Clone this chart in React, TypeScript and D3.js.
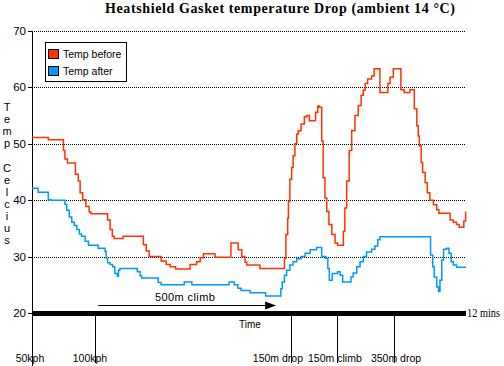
import React, { useRef, useEffect } from "react";
import * as d3 from "d3";

const title = "Heatshield Gasket temperature Drop (ambient 14 °C)";
const seriesNames = ["Temp before", "Temp after"];
const seriesColors = ["#ff3300", "#0099ff"];
const yTicks = [20, 30, 40, 50, 60, 70];
const yTitle = "Temp Celcius";
const markerTimes = [0, 1.74, 7.16, 8.43, 10.01];
const markerLabels = ["50kph", "100kph", "150m drop", "150m climb", "350m drop"];
const endLabel = "12 mins";

// [minutes, °C]
const tempBefore: [number, number][] = [
  [0, 51.1], [0.45, 50.7], [0.87, 48.8], [0.91, 47.3], [0.98, 46.6], [1.2, 44.6],
  [1.28, 43.4], [1.33, 41.3], [1.4, 40.1], [1.49, 38.9], [1.58, 37.9], [1.63, 37.6],
  [2.09, 36.5], [2.16, 34.8], [2.22, 33.6], [2.27, 33.2], [2.52, 33.6], [3.08, 32.1],
  [3.16, 31.0], [3.24, 30.0], [3.57, 29.2], [3.71, 28.6], [3.82, 28.2], [3.97, 27.8],
  [4.37, 28.6], [4.55, 29.1], [4.65, 29.8], [4.74, 30.5], [5.06, 29.9], [5.5, 32.4],
  [5.7, 31.2], [5.8, 30.0], [5.89, 29.0], [5.94, 28.5], [6.3, 27.9], [6.98, 29.7],
  [7.02, 33.9], [7.07, 36.8], [7.09, 39.8], [7.13, 43.7], [7.18, 45.8], [7.22, 47.9],
  [7.27, 50.0], [7.32, 51.7], [7.36, 52.3], [7.44, 53.5], [7.53, 54.8], [7.6, 55.0],
  [7.67, 54.1], [7.84, 55.6], [7.9, 56.7], [7.94, 56.5], [8.01, 50.5], [8.05, 44.0],
  [8.1, 40.4], [8.15, 38.0], [8.21, 35.7], [8.29, 33.9], [8.38, 32.4], [8.45, 32.0],
  [8.61, 34.5], [8.65, 38.6], [8.7, 43.4], [8.77, 48.8], [8.84, 52.3], [8.93, 55.0],
  [9.02, 56.8], [9.1, 58.6], [9.16, 59.5], [9.21, 60.7], [9.28, 61.5], [9.39, 62.0],
  [9.46, 63.3], [9.62, 59.1], [9.84, 60.7], [9.9, 61.8], [9.99, 63.3], [10.2, 59.6],
  [10.29, 59.1], [10.45, 59.6], [10.57, 56.2], [10.64, 53.2], [10.68, 51.4], [10.71, 49.6],
  [10.76, 46.7], [10.8, 44.9], [10.87, 43.1], [10.93, 41.3], [11.0, 40.0], [11.1, 39.2],
  [11.19, 38.3], [11.25, 37.7], [11.56, 36.5], [11.65, 36.1], [11.74, 35.7], [11.81, 35.2],
  [11.94, 36.3], [11.99, 38.0],
];

const tempAfter: [number, number][] = [
  [0, 42.1], [0.17, 41.4], [0.45, 40.1], [0.52, 40.0], [0.91, 39.3], [0.96, 38.2],
  [1.03, 37.0], [1.1, 36.1], [1.17, 35.5], [1.24, 34.8], [1.31, 34.0], [1.37, 33.6],
  [1.47, 32.7], [1.56, 32.0], [1.83, 31.5], [2.02, 30.9], [2.05, 29.7], [2.09, 28.9],
  [2.16, 28.6], [2.23, 28.2], [2.29, 27.0], [2.36, 26.5], [2.39, 27.6], [2.43, 27.9],
  [2.91, 27.3], [2.99, 26.6], [3.03, 26.2], [3.49, 25.4], [3.57, 25.0], [4.21, 25.5],
  [4.42, 25.0], [5.45, 25.5], [5.59, 25.0], [5.69, 24.4], [5.78, 24.0], [6.03, 23.6],
  [6.46, 23.0], [6.88, 24.3], [6.92, 25.5], [6.98, 26.7], [7.04, 27.6], [7.13, 28.5],
  [7.22, 29.1], [7.32, 29.6], [7.44, 30.0], [7.55, 30.6], [7.69, 31.2], [7.87, 31.6],
  [8.01, 30.0], [8.12, 29.7], [8.18, 27.9], [8.22, 25.8], [8.3, 27.0], [8.45, 27.3],
  [8.52, 26.7], [8.59, 25.5], [8.82, 26.4], [8.88, 27.1], [8.98, 28.2], [9.07, 29.1],
  [9.16, 30.0], [9.25, 30.8], [9.39, 31.3], [9.48, 31.9], [9.56, 33.0], [9.62, 33.5],
  [11.02, 30.3], [11.08, 28.2], [11.12, 26.4], [11.19, 24.6], [11.24, 23.8], [11.28, 25.8],
  [11.33, 29.4], [11.38, 31.3], [11.46, 31.5], [11.53, 30.6], [11.59, 29.1], [11.65, 28.5],
  [11.74, 28.1], [12, 28.1],
];

const climbFrom = 1.83;
const climbTo = 6.75;
const climbTemp = 21.4;
const climbLabel = "500m climb";

const Chart = () => {
  const ref = useRef<SVGSVGElement>(null);

  useEffect(() => {
    const svg = d3.select(ref.current);
    svg.selectAll("*").remove();

    const sans = "'Liberation Sans', Arial, sans-serif";
    const serif = "'Liberation Serif', 'Times New Roman', serif";

    const x = d3.scaleLinear().domain([0, 12]).range([32, 466]);
    const y = d3.scaleLinear().domain([20, 70]).range([313, 31]);

    // title
    svg.append("text")
      .attr("x", 105).attr("y", 12.5)
      .attr("textLength", 350).attr("lengthAdjust", "spacing")
      .style("font-family", serif).style("font-weight", "bold").style("font-size", "14px")
      .text(title);

    // dotted grid
    svg.append("g").selectAll("line")
      .data(yTicks.filter((d) => d > 20))
      .enter().append("line")
      .attr("x1", x(0)).attr("x2", x(12))
      .attr("y1", (d) => Math.round(y(d)) + 0.5).attr("y2", (d) => Math.round(y(d)) + 0.5)
      .attr("stroke", "#000").attr("stroke-dasharray", "1,1");

    // y axis
    svg.append("line")
      .attr("x1", 32.5).attr("x2", 32.5).attr("y1", y(70)).attr("y2", 366)
      .attr("stroke", "#000");
    const ticks = svg.append("g");
    ticks.selectAll("line").data(yTicks).enter().append("line")
      .attr("x1", 28).attr("x2", 32)
      .attr("y1", (d) => Math.round(y(d)) + 0.5).attr("y2", (d) => Math.round(y(d)) + 0.5)
      .attr("stroke", "#000");
    ticks.selectAll("text").data(yTicks).enter().append("text")
      .attr("x", 26).attr("y", (d) => y(d) + 4)
      .attr("text-anchor", "end")
      .style("font-family", sans).style("font-size", "11.5px")
      .text((d) => d);

    // vertical y title
    const yt = svg.append("text")
      .attr("x", 7).attr("y", 111)
      .attr("text-anchor", "middle")
      .style("font-family", sans).style("font-size", "11px");
    yTitle.split("").forEach((c, i) => {
      yt.append("tspan").attr("x", 7).attr("y", 111 + i * 12.1).text(c);
    });

    // time bar
    svg.append("rect")
      .attr("x", x(0)).attr("y", y(20) - 2)
      .attr("width", x(12) - x(0)).attr("height", 5)
      .attr("fill", "#000");
    svg.append("text")
      .attr("x", x(12) + 1).attr("y", y(20) + 4)
      .attr("textLength", 33).attr("lengthAdjust", "spacingAndGlyphs")
      .style("font-family", serif).style("font-size", "12px")
      .text(endLabel);
    svg.append("text")
      .attr("x", (x(0) + x(12)) / 2 + 1).attr("y", 328)
      .attr("text-anchor", "middle")
      .style("font-family", sans).style("font-size", "10px")
      .text("Time");

    // event markers
    const shift = [-2, -5, -13, -2, 2];
    const mk = svg.append("g");
    mk.selectAll("line").data(markerTimes).enter().append("line")
      .attr("x1", (d) => Math.round(x(d)) + 0.5).attr("x2", (d) => Math.round(x(d)) + 0.5)
      .attr("y1", y(20)).attr("y2", 363)
      .attr("stroke", "#000");
    mk.selectAll("text").data(markerTimes).enter().append("text")
      .attr("x", (d, i) => x(d) + shift[i]).attr("y", 362)
      .attr("text-anchor", "middle")
      .style("font-family", sans).style("font-size", "10.5px")
      .text((d, i) => markerLabels[i]);

    // climb arrow
    const ay = Math.round(y(climbTemp)) + 0.5;
    svg.append("line")
      .attr("x1", x(climbFrom)).attr("x2", x(climbTo) - 8)
      .attr("y1", ay).attr("y2", ay)
      .attr("stroke", "#000");
    svg.append("path")
      .attr("d", `M${x(climbTo) - 11},${ay - 4} L${x(climbTo)},${ay} L${x(climbTo) - 11},${ay + 4} Z`)
      .attr("fill", "#000");
    svg.append("text")
      .attr("x", (x(climbFrom) + x(climbTo)) / 2 - 2).attr("y", ay - 5)
      .attr("text-anchor", "middle")
      .style("font-family", sans).style("font-size", "11px").style("letter-spacing", "0.4px")
      .text(climbLabel);

    // series
    const line = d3.line<[number, number]>()
      .x((d) => x(d[0]))
      .y((d) => y(d[1]))
      .curve(d3.curveStepAfter);
    [tempBefore, tempAfter].forEach((s, i) => {
      svg.append("path")
        .attr("d", line(s))
        .attr("fill", "none")
        .attr("stroke", seriesColors[i])
        .attr("stroke-width", 1.5);
    });

    // legend
    const lg = svg.append("g");
    lg.append("rect")
      .attr("x", 45.5).attr("y", 42.5).attr("width", 81).attr("height", 39)
      .attr("fill", "#fff").attr("stroke", "#000");
    seriesNames.forEach((name, i) => {
      lg.append("rect")
        .attr("x", 48.5).attr("y", 49.5 + i * 17).attr("width", 10).attr("height", 9)
        .attr("fill", seriesColors[i]).attr("stroke", "#000");
      lg.append("text")
        .attr("x", 63).attr("y", 58 + i * 17)
        .style("font-family", sans).style("font-size", "10.5px")
        .text(name);
    });
  }, []);

  return (
    <svg
      ref={ref}
      width={504}
      height={366}
      style={{ position: "absolute", left: 0, top: 0, background: "#fff" }}
    ></svg>
  );
};

export default function App() {
  return <Chart />;
}
